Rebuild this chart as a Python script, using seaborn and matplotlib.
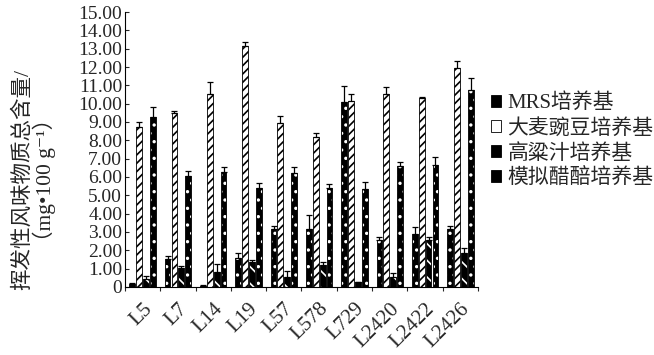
import numpy as np
import pandas as pd
import matplotlib
matplotlib.use("Agg")
import matplotlib.pyplot as plt
import seaborn as sns
from matplotlib.ticker import FuncFormatter, MultipleLocator

strains = ["L5", "L7", "L14", "L19", "L57", "L578", "L729", "L2420", "L2422", "L2426"]
media = ["MRS培养基", "大麦豌豆培养基", "高粱汁培养基", "模拟醋醅培养基"]

mrs = [0.15, 1.51, 0.05, 1.56, 3.18, 3.15, 10.07, 2.53, 2.87, 3.18]
pea = [8.71, 9.47, 10.55, 13.16, 8.95, 8.20, 10.17, 10.51, 10.29, 11.93]
sorghum = [0.42, 1.05, 0.80, 1.33, 0.56, 1.20, 0.24, 0.53, 2.56, 1.84]
vinegar = [9.29, 6.07, 6.29, 5.42, 6.24, 5.42, 5.35, 6.60, 6.64, 10.75]

mrs_err = [0.05, 0.18, 0.03, 0.31, 0.15, 0.78, 0.91, 0.18, 0.38, 0.15]
pea_err = [0.31, 0.13, 0.65, 0.22, 0.38, 0.22, 0.38, 0.38, 0.09, 0.42]
sorghum_err = [0.15, 0.10, 0.44, 0.14, 0.28, 0.18, 0.05, 0.25, 0.15, 0.27]
vinegar_err = [0.55, 0.28, 0.27, 0.24, 0.29, 0.22, 0.40, 0.24, 0.43, 0.63]

sns.set_theme(style="white")
plt.rcParams["font.family"] = ["Liberation Serif", "Noto Sans CJK SC", "DejaVu Sans"]
plt.rcParams["hatch.linewidth"] = 1.2

values = [mrs, pea, sorghum, vinegar]
errs = [mrs_err, pea_err, sorghum_err, vinegar_err]
df = pd.DataFrame({
    "strain": np.repeat([strains], 4, axis=0).ravel(),
    "medium": np.repeat(media, len(strains)),
    "value": np.concatenate(values),
})

fig = plt.figure(figsize=(6.54, 3.55), dpi=100)
ax = fig.add_axes([0.191, 0.192, 0.540, 0.774])

sns.barplot(data=df, x="strain", y="value", hue="medium", hue_order=media,
            order=strains, errorbar=None, width=0.78, gap=0.15, ax=ax,
            palette=["black", "white", "black", "black"], edgecolor="black",
            linewidth=0.6, legend=True)

styles = [
    dict(fc="black", hatch="..", hc="white"),
    dict(fc="white", hatch="////", hc="black"),
    dict(fc="black", hatch="\\\\", hc="white"),
    dict(fc="black", hatch="..", hc="white"),
]
for cont, st, err in zip(ax.containers, styles, errs):
    xs, hs = [], []
    for bar in cont:
        bar.set_facecolor(st["fc"])
        bar.set_hatch(st["hatch"])
        bar._hatch_color = matplotlib.colors.to_rgba(st["hc"])
        xs.append(bar.get_x() + bar.get_width() / 2)
        hs.append(bar.get_height())
    ax.errorbar(xs, hs, yerr=[np.zeros(len(err)), err], fmt="none",
                ecolor="black", elinewidth=0.9, capsize=2, capthick=0.9)

ax.set_ylim(0, 15)
ax.set_xlim(-0.5, len(strains) - 0.5)
ax.yaxis.set_major_locator(MultipleLocator(1))
ax.yaxis.set_major_formatter(FuncFormatter(lambda v, p: "0" if v == 0 else f"{v:.2f}"))
for s in ["top", "right"]:
    ax.spines[s].set_visible(False)
for s in ["left", "bottom"]:
    ax.spines[s].set_color("black")
    ax.spines[s].set_linewidth(0.8)
ax.tick_params(axis="y", direction="in", length=3, width=0.8, labelsize=14, pad=2, left=True)
ax.set_xticks(range(len(strains)))
ax.set_xticklabels(strains, rotation=45, ha="right", rotation_mode="anchor", fontsize=15)
ax.tick_params(axis="x", length=0, pad=9)
ax.set_xticks(np.arange(-0.5, len(strains), 1), minor=True)
ax.tick_params(axis="x", which="minor", direction="out", length=3, width=0.8, bottom=True)
ax.set_xlabel("")
ax.set_ylabel("挥发性风味物质总含量/\n（mg•100 g⁻¹）", fontsize=15.5, linespacing=1.0)
ax.yaxis.set_label_coords(-0.195, 0.39)

handles, labels = ax.get_legend_handles_labels()
ax.legend(handles, labels, loc="center left", bbox_to_anchor=(0.995, 0.53), frameon=False,
          fontsize=15, handlelength=0.5, handleheight=0.5, handletextpad=0.3,
          labelspacing=0.25, borderaxespad=0.3)

fig.savefig("out.png", dpi=100)
